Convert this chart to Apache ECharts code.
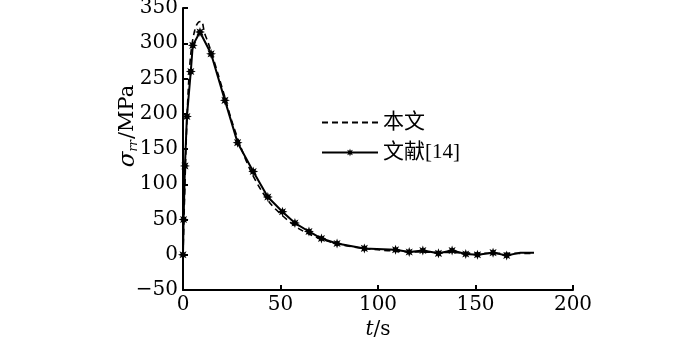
<!DOCTYPE html>
<html>
<head>
<meta charset="utf-8">
<script src="https://cdn.jsdelivr.net/npm/echarts@6/dist/echarts.min.js"></script>
<style>
html, body { margin: 0; padding: 0; background: #fff; }
#main { width: 700px; height: 337px; }
</style>
</head>
<body>
<div id="main"></div>
<script>
// 本文 (dashed), [t, sigma]
var benwenData = [[0,0],[1,100],[2,190],[3,250],[4,285],[5,305],[6,318],[7,326],[8,330],[9.5,331],[11,315],[13,300],[15,283],[18,256],[21,228],[25,190],[30,150],[35,117],[40,92],[45,72],[50,58],[55,46],[60,36],[65,29],[70,23],[80,15],[90,10],[100,7],[110,5],[120,4],[140,3],[160,2],[180,2]];
// 文献[14] (solid with markers)
var wenxianData = [[0,0],[0.3,50],[1,126],[2,196],[4,260],[5,297],[8.7,316],[14.4,285],[21.5,219],[28,159],[36,118],[43.5,82],[51,61],[57.4,45],[64.6,33],[71,23],[79,16],[93,9],[109,7],[116,4],[123,6],[131,2],[138,6],[145,1],[151,0],[159,3],[166,-1],[173,3],[180,3]];
var noMarkerFrom = 27; // last points are line only
var seriesNames = ['本文', '文献[14]'];
var xTicks = [0, 200, 50];
var yTicks = [-50, 350, 50];

var star = 'path://M10 0 L4.6 1.9 L7.07 7.07 L1.9 4.6 L0 10 L-1.9 4.6 L-7.07 7.07 L-4.6 1.9 L-10 0 L-4.6 -1.9 L-7.07 -7.07 L-1.9 -4.6 L0 -10 L1.9 -4.6 L7.07 -7.07 L4.6 -1.9 Z';
var serif = '"DejaVu Serif", "Liberation Serif", serif';
var legendFont = '"Liberation Serif", "Noto Sans CJK SC", serif';

function minus(v) {
    return String(v).replace('-', '\u2212');
}

var myChart = echarts.init(document.getElementById('main'));
var option = {
    animation: false,
    backgroundColor: '#fff',
    grid: { left: 183, right: 127, top: 8, bottom: 47, outerBoundsMode: 'none', containLabel: false },
    legend: {
        left: 316,
        top: 107,
        orient: 'vertical',
        itemWidth: 56,
        itemHeight: 10,
        itemGap: 9,
        textStyle: { color: '#000', fontSize: 21, fontFamily: legendFont },
        data: [
            { name: seriesNames[0], itemStyle: { opacity: 0 } },
            { name: seriesNames[1] }
        ]
    },
    xAxis: {
        type: 'value',
        min: xTicks[0], max: xTicks[1], interval: xTicks[2],
        name: '{i|t}/s',
        nameLocation: 'middle',
        nameGap: 30,
        nameTextStyle: {
            color: '#000', fontSize: 20, fontFamily: serif,
            rich: { i: { fontStyle: 'italic', fontSize: 20, fontFamily: serif, color: '#000' } }
        },
        axisLine: { show: true, onZero: false, lineStyle: { color: '#000', width: 2 } },
        axisTick: { show: true, inside: true, length: 5, lineStyle: { color: '#000', width: 2 } },
        axisLabel: { color: '#000', fontSize: 20, fontFamily: serif, margin: 5 },
        splitLine: { show: false }
    },
    yAxis: {
        type: 'value',
        min: yTicks[0], max: yTicks[1], interval: yTicks[2],
        axisLine: { show: true, onZero: false, lineStyle: { color: '#000', width: 2 } },
        axisTick: { show: true, inside: true, length: 5, lineStyle: { color: '#000', width: 2 } },
        axisLabel: { color: '#000', fontSize: 20, fontFamily: serif, margin: 5, formatter: minus },
        splitLine: { show: false }
    },
    graphic: [{
        type: 'text',
        x: 128,
        y: 126,
        rotation: Math.PI / 2,
        style: {
            text: '{s|σ}{sub|rr}/MPa',
            align: 'center',
            verticalAlign: 'middle',
            fill: '#000',
            fontSize: 21,
            fontFamily: serif,
            rich: {
                s: { fontStyle: 'italic', fontSize: 23, fontFamily: serif, fill: '#000' },
                sub: { fontStyle: 'italic', fontSize: 12, fontFamily: serif, fill: '#000', verticalAlign: 'bottom', padding: [8, 1, 0, 0] }
            }
        }
    }],
    series: [{
        name: seriesNames[0],
        type: 'line',
        data: benwenData,
        smooth: 0.3,
        symbol: 'none',
        lineStyle: { color: '#000', width: 1.6, type: [6, 4] },
        itemStyle: { color: '#000' }
    }, {
        name: seriesNames[1],
        type: 'line',
        data: wenxianData.map(function (p, i) {
            return i >= noMarkerFrom ? { value: p, symbol: 'none' } : p;
        }),
        symbol: star,
        symbolSize: 10,
        showAllSymbol: true,
        lineStyle: { color: '#000', width: 2 },
        itemStyle: { color: '#000' }
    }]
};
myChart.setOption(option);
</script>
</body>
</html>
